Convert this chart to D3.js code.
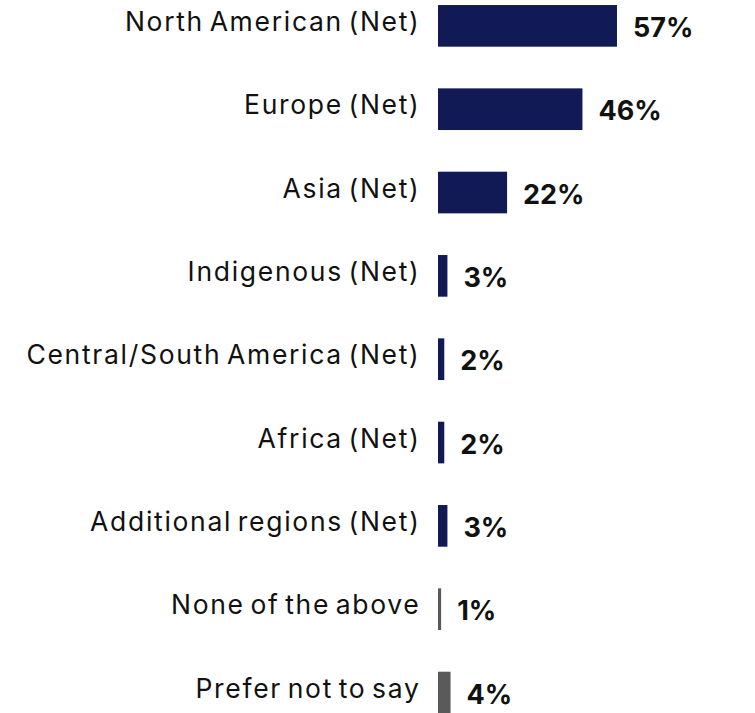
<!DOCTYPE html>
<html><head><meta charset="utf-8">
<script src="https://cdn.jsdelivr.net/npm/d3@7"></script>
<style>body{margin:0;background:#fff}svg{display:block}</style>
</head><body>
<svg id="c" width="755" height="713"></svg>
<script>
const categories = ["North American (Net)","Europe (Net)","Asia (Net)","Indigenous (Net)","Central/South America (Net)","Africa (Net)","Additional regions (Net)","None of the above","Prefer not to say"];
const values = [57,46,22,3,2,2,3,1,4];
const groups = ["net","net","net","net","net","net","net","other","other"];
const colors = {net:"#121a56", other:"#5a5a5a"};

const svg = d3.select("#c");
const x = d3.scaleLinear().domain([0,100]).range([438, 438+314]);
const y = d3.scaleBand().domain(categories).range([-15.8, 734.2]).paddingInner(0.5).paddingOuter(0.25);
const font = "Inter, Roboto, 'Noto Sans', sans-serif";

const rows = svg.selectAll("g.row").data(categories).join("g").attr("class","row");
rows.append("rect")
  .attr("x", x(0)).attr("y", d=>y(d))
  .attr("width", (d,i)=>x(values[i])-x(0))
  .attr("height", y.bandwidth())
  .attr("fill", (d,i)=>colors[groups[i]]);
rows.append("text")
  .attr("x", 420.5).attr("y", d=>y(d)+y.bandwidth()/2+5)
  .attr("text-anchor","end").attr("font-family",font).attr("font-size",26.5)
  .attr("letter-spacing","1.7px").attr("word-spacing","-3.5px")
  .attr("fill","#111").text(d=>d);
rows.append("text")
  .attr("x", (d,i)=>x(values[i])+16).attr("y", d=>y(d)+y.bandwidth()/2+11)
  .attr("font-family",font).attr("font-weight","bold").attr("font-size",27)
  .attr("fill","#111").text((d,i)=>values[i]+"%");
</script>
</body></html>
